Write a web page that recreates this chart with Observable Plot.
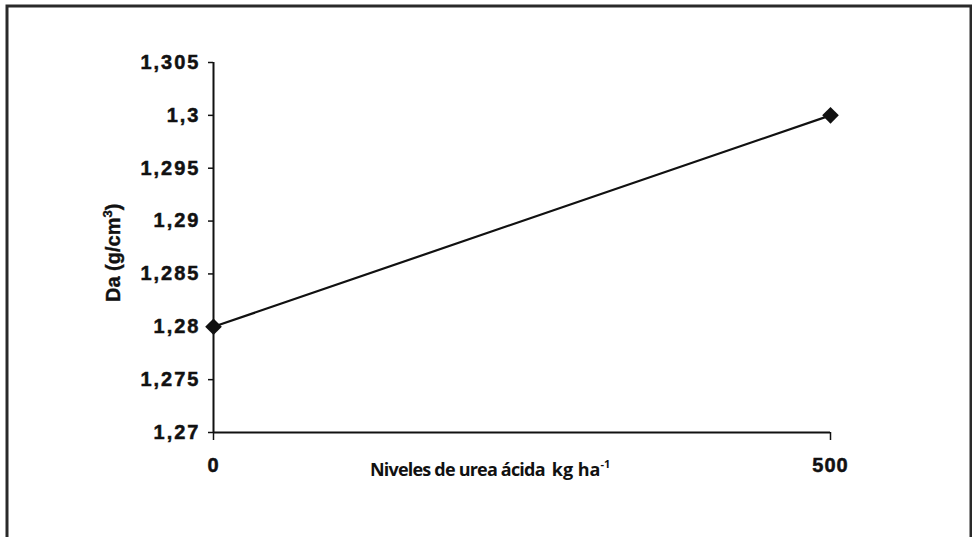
<!DOCTYPE html>
<html>
<head>
<meta charset="utf-8">
<script src="https://cdn.jsdelivr.net/npm/d3@7"></script>
<script src="https://cdn.jsdelivr.net/npm/@observablehq/plot@0.6"></script>
<style>
  html, body { margin: 0; padding: 0; background: #fff; }
  #chart { width: 972px; height: 537px; }
</style>
</head>
<body>
<div id="chart"></div>
<script>
// Data
const niveles = [0, 500];
const densidad = [1.28, 1.30];
const yTicks = [1.27, 1.275, 1.28, 1.285, 1.29, 1.295, 1.3, 1.305];
const yTickLabels = ["1,27", "1,275", "1,28", "1,285", "1,29", "1,295", "1,3", "1,305"];
const xTicks = [0, 500];
const xTickLabels = ["0", "500"];

const data = niveles.map((x, i) => ({x, y: densidad[i]}));

const W = 972, H = 537;
const tickFont = "'Liberation Sans', Arial, sans-serif";
const chart = Plot.plot({
  width: W,
  height: H,
  marginLeft: 213,
  marginRight: 142,
  marginTop: 62,
  marginBottom: 105,
  style: {fontFamily: tickFont, fontWeight: "bold", fontSize: "20px", color: "#111", background: "#fff"},
  x: {domain: [0, 500], label: null},
  y: {domain: [1.27, 1.305], label: null},
  marks: [
    Plot.ruleX([0], {stroke: "#111", strokeWidth: 2}),
    Plot.ruleY([1.27], {stroke: "#111", strokeWidth: 2}),
    Plot.axisY({ticks: yTicks, tickFormat: (d) => yTickLabels[yTicks.indexOf(d)], tickSize: 5, tickPadding: 8, strokeWidth: 1.5, label: null, fontFamily: tickFont, fontWeight: "bold", fontSize: 20}),
    Plot.axisX({ticks: xTicks, tickFormat: (d) => xTickLabels[xTicks.indexOf(d)], tickSize: 8, tickPadding: 17, strokeWidth: 1.5, label: null, fontFamily: tickFont, fontWeight: "bold", fontSize: 20}),
    Plot.line(data, {x: "x", y: "y", stroke: "#111", strokeWidth: 2.2}),
    Plot.dot(data, {x: "x", y: "y", symbol: "diamond2", fill: "#111", r: 7.5})
  ]
});

const svg = d3.select(chart);
svg.selectAll("g[aria-label='y-axis tick label'] text")
  .style("letter-spacing", "2px").style("font-weight", "bold").style("font-size", "20px")
  .attr("stroke", "#111").attr("stroke-width", 0.5);
svg.selectAll("g[aria-label='x-axis tick label'] text")
  .style("letter-spacing", "1px").style("font-weight", "bold").style("font-size", "20px")
  .attr("stroke", "#111").attr("stroke-width", 0.5);

// border frame
svg.insert("rect", ":first-child")
  .attr("x", 7).attr("y", 6).attr("width", W - 8).attr("height", H + 10)
  .attr("fill", "none").attr("stroke", "#2a2a2a").attr("stroke-width", 3);

// y-axis title
svg.append("text")
  .attr("transform", "translate(120,302) rotate(-90)")
  .attr("text-anchor", "start")
  .style("font-family", tickFont)
  .style("font-weight", "bold").style("font-size", "20px").attr("fill", "#111")
  .attr("stroke", "#111").attr("stroke-width", 0.4)
  .call(t => {
    t.append("tspan").text("Da (g/cm");
    t.append("tspan").attr("dy", -8).style("font-size", "13px").text("3");
    t.append("tspan").attr("dy", 8).text(")");
  });

// x-axis title
svg.append("text")
  .attr("x", 370).attr("y", 476)
  .attr("text-anchor", "start")
  .style("font-family", "'Open Sans', sans-serif")
  .style("font-weight", "bold").attr("fill", "#111")
  .call(t => {
    t.append("tspan").style("font-size", "18px").style("letter-spacing", "-0.8px").text("Niveles de urea ácida");
    t.append("tspan").attr("dx", 7).style("font-size", "18px").text("kg ha");
    t.append("tspan").attr("dy", -8).style("font-size", "11px").text("-1");
  });

document.getElementById("chart").appendChild(chart);
</script>
</body>
</html>
